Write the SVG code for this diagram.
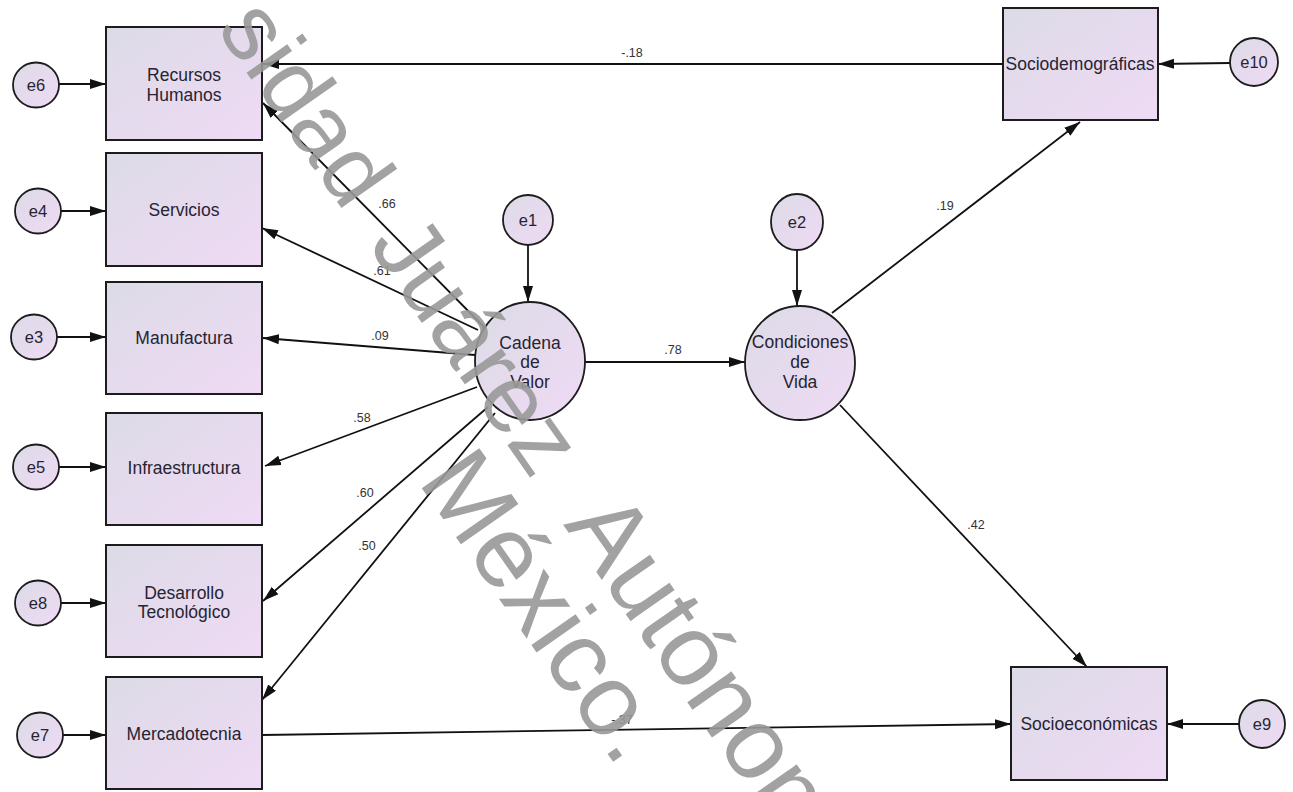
<svg xmlns="http://www.w3.org/2000/svg" width="1293" height="792" viewBox="0 0 1293 792">
<defs>
<linearGradient id="g" x1="0" y1="0" x2="1" y2="1">
<stop offset="0" stop-color="#dcdbe6"/>
<stop offset="1" stop-color="#efdaf5"/>
</linearGradient>
<marker id="ah" markerUnits="userSpaceOnUse" markerWidth="17" markerHeight="11" refX="16" refY="5.5" orient="auto">
<path d="M0,0.5 L16,5.5 L0,10.5 z" fill="#111"/>
</marker>
<style>
.box{fill:url(#g);stroke:#1c1c1c;stroke-width:2}
.cir{fill:url(#g);stroke:#1c1c1c;stroke-width:1.8}
.t{font-family:"Liberation Sans",Arial,sans-serif;font-size:17.5px;fill:#262433;text-anchor:middle}
.e{font-family:"Liberation Sans",Arial,sans-serif;font-size:16.5px;fill:#262433;text-anchor:middle}
.l{font-family:"Liberation Sans",Arial,sans-serif;font-size:12.5px;fill:#333;text-anchor:middle}
.c{stroke:#111;stroke-width:1.8;fill:none;marker-end:url(#ah)}
.wm{font-family:"Liberation Sans",Arial,sans-serif;font-size:102px;fill:#999999;opacity:0.9}
</style>
</defs>
<rect width="1293" height="792" fill="#ffffff"/>

<g id="connectors">
<line class="c" x1="59" y1="84" x2="106" y2="84"/>
<line class="c" x1="61" y1="211" x2="106" y2="211"/>
<line class="c" x1="57" y1="337" x2="106" y2="337"/>
<line class="c" x1="59" y1="467" x2="106" y2="467"/>
<line class="c" x1="61" y1="603" x2="106" y2="603"/>
<line class="c" x1="63" y1="735" x2="106" y2="735"/>
<line class="c" x1="1003" y1="64" x2="263" y2="64"/>
<line class="c" x1="1230" y1="63" x2="1158" y2="64"/>
<line class="c" x1="1239" y1="724" x2="1167" y2="724"/>
<line class="c" x1="528" y1="245" x2="528" y2="302"/>
<line class="c" x1="797" y1="250" x2="797" y2="306"/>
<line class="c" x1="485" y1="328" x2="263" y2="103"/>
<line class="c" x1="478" y1="330" x2="262" y2="228"/>
<line class="c" x1="475" y1="355" x2="263" y2="338"/>
<line class="c" x1="477" y1="387" x2="265" y2="466"/>
<line class="c" x1="488" y1="407" x2="263" y2="601"/>
<line class="c" x1="495" y1="413" x2="262" y2="700"/>
<line class="c" x1="585" y1="362" x2="745" y2="362"/>
<line class="c" x1="832" y1="313" x2="1080" y2="122"/>
<line class="c" x1="840" y1="405" x2="1087" y2="667"/>
<line class="c" x1="262" y1="735" x2="1011" y2="724"/>
<text class="l" x="632" y="57">-.18</text>
<text class="l" x="387" y="208">.66</text>
<text class="l" x="382" y="275">.61</text>
<text class="l" x="380" y="340">.09</text>
<text class="l" x="362" y="422">.58</text>
<text class="l" x="365" y="497">.60</text>
<text class="l" x="367" y="550">.50</text>
<text class="l" x="673" y="354">.78</text>
<text class="l" x="945" y="210">.19</text>
<text class="l" x="976" y="529">.42</text>
<text class="l" x="622" y="724">-.37</text>
</g>

<g id="n-rh"><rect class="box" x="106" y="27" width="156" height="113"/><text class="t" x="184" y="81">Recursos</text><text class="t" x="184" y="101">Humanos</text></g>
<g id="n-serv"><rect class="box" x="106" y="153" width="156" height="113"/><text class="t" x="184" y="216">Servicios</text></g>
<g id="n-manu"><rect class="box" x="106" y="282" width="156" height="112"/><text class="t" x="184" y="344">Manufactura</text></g>
<g id="n-infra"><rect class="box" x="106" y="413" width="156" height="112"/><text class="t" x="184" y="474">Infraestructura</text></g>
<g id="n-des"><rect class="box" x="106" y="545" width="156" height="112"/><text class="t" x="184" y="599">Desarrollo</text><text class="t" x="184" y="618">Tecnológico</text></g>
<g id="n-merc"><rect class="box" x="106" y="677" width="156" height="112"/><text class="t" x="184" y="740">Mercadotecnia</text></g>
<g id="n-sdem"><rect class="box" x="1003" y="8" width="155" height="112"/><text class="t" x="1080" y="70">Sociodemográficas</text></g>
<g id="n-secon"><rect class="box" x="1011" y="667" width="156" height="113"/><text class="t" x="1089" y="730">Socioeconómicas</text></g>

<g id="n-cadena"><ellipse class="cir" cx="530" cy="361" rx="55" ry="59"/><text class="t" x="530" y="349">Cadena</text><text class="t" x="530" y="368">de</text><text class="t" x="530" y="388">Valor</text></g>
<g id="n-cond"><ellipse class="cir" cx="800" cy="363" rx="55" ry="57"/><text class="t" x="800" y="348">Condiciones</text><text class="t" x="800" y="368">de</text><text class="t" x="800" y="388">Vida</text></g>

<g id="n-e6"><ellipse class="cir" cx="36" cy="85" rx="23" ry="22.5"/><text class="e" x="36" y="91">e6</text></g>
<g id="n-e4"><ellipse class="cir" cx="38" cy="211" rx="23" ry="22.5"/><text class="e" x="38" y="217">e4</text></g>
<g id="n-e3"><ellipse class="cir" cx="34" cy="337" rx="23" ry="22.5"/><text class="e" x="34" y="343">e3</text></g>
<g id="n-e5"><ellipse class="cir" cx="36" cy="467" rx="23" ry="22.5"/><text class="e" x="36" y="473">e5</text></g>
<g id="n-e8"><ellipse class="cir" cx="38" cy="603" rx="23" ry="22.5"/><text class="e" x="38" y="609">e8</text></g>
<g id="n-e7"><ellipse class="cir" cx="40" cy="735" rx="23" ry="22.5"/><text class="e" x="40" y="741">e7</text></g>
<g id="n-e1"><ellipse class="cir" cx="528" cy="220" rx="25" ry="25"/><text class="e" x="528" y="226">e1</text></g>
<g id="n-e2"><ellipse class="cir" cx="797" cy="222" rx="26" ry="28"/><text class="e" x="797" y="228">e2</text></g>
<g id="n-e10"><ellipse class="cir" cx="1254" cy="62" rx="24" ry="24"/><text class="e" x="1254" y="68">e10</text></g>
<g id="n-e9"><ellipse class="cir" cx="1262" cy="724" rx="23" ry="24"/><text class="e" x="1262" y="730">e9</text></g>

<g id="watermark">
<text class="wm" transform="translate(216,29) rotate(55)"><tspan x="0" y="0" font-size="94">sidad</tspan><tspan x="264" y="0" font-size="96">Juárez</tspan><tspan x="605" y="0">Autónoma</tspan><tspan x="486" y="95">México.</tspan></text>
</g>
</svg>
